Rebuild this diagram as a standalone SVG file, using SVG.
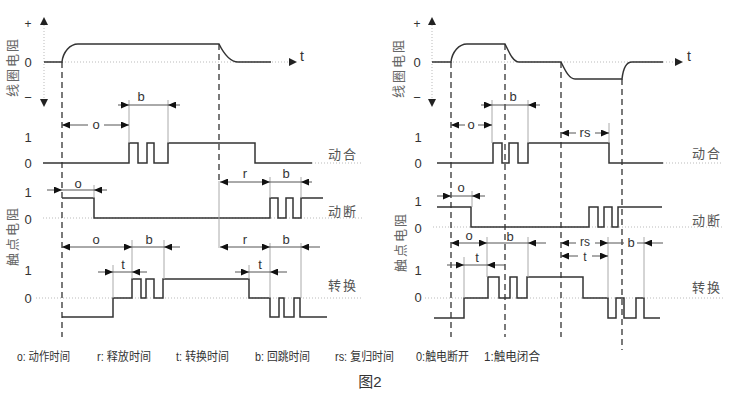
<svg xmlns="http://www.w3.org/2000/svg" width="733" height="406" viewBox="0 0 733 406">
<style>
text{font-family:"Liberation Sans","Noto Sans CJK SC",sans-serif;fill:#333}
.num{font-size:13px;text-anchor:middle}
.lab{font-size:13px;fill:#555;letter-spacing:2px}
.vl{font-size:13px;fill:#666;text-anchor:middle;letter-spacing:2px}
.dl{font-size:13px;text-anchor:middle}
.sig{fill:none;stroke:#333;stroke-width:1.5}
.dash{stroke:#333;stroke-width:1.3;stroke-dasharray:6 4;fill:none}
.thin{stroke:#aaa;stroke-width:1;fill:none}
.dot{stroke:#bbb;stroke-width:1;stroke-dasharray:1 2;fill:none}
.d{stroke:#555;stroke-width:1;fill:none}
.m{marker-end:url(#ah)}
.mm{marker-start:url(#ah);marker-end:url(#ah)}
.ax{fill:#222}
.cap{font-size:12px}
</style>
<defs>
<marker id="ah" viewBox="0 0 8 7" refX="8" refY="3.5" markerWidth="8" markerHeight="7" orient="auto-start-reverse" markerUnits="userSpaceOnUse"><path d="M0,0L8,3.5L0,7z" fill="#111"/></marker>
</defs>
<rect width="733" height="406" fill="#fff"/>

<!-- LEFT PANEL -->
<g id="left-coil">
<path class="dot" d="M44,25V99M44,62H289"/>
<path class="ax" d="M44,17L40,25H48z M44,107L40,99H48z M297,62L289,58V66z"/>
<text class="num" x="28" y="28" style="font-size:12px">+</text>
<text class="num" x="28" y="67">0</text>
<text class="num" x="28" y="102">−</text>
<text x="300" y="61" style="font-size:14px">t</text>
<text class="vl" transform="translate(17,67) rotate(-90)">线圈电阻</text>
<path class="sig" d="M44,62H62C63,52 70,44 78,44H219C223,52 230,62 238,62H271"/>
</g>
<g id="left-no">
<path class="dot" d="M312,163H362"/>
<text class="num" x="28" y="142">1</text>
<text class="num" x="28" y="168">0</text>
<text class="lab" x="328" y="159">动合</text>
<path class="sig" d="M43,163H129V143H138V163H147V143H154V163H168V143H255V163H312"/>
</g>
<g id="left-nc">
<path class="dot" d="M43,218H362"/>
<text class="num" x="28" y="197">1</text>
<text class="num" x="28" y="224">0</text>
<text class="lab" x="328" y="216">动断</text>
<path class="sig" d="M62,198H94V218H270V198H278V218H286V198H293V218H301V198H323"/>
</g>
<g id="left-co">
<path class="dot" d="M36,298H362"/>
<text class="num" x="28" y="275">1</text>
<text class="num" x="28" y="303">0</text>
<text class="lab" x="328" y="290">转换</text>
<text class="vl" transform="translate(17,236) rotate(-90)">触点电阻</text>
<path class="sig" d="M62,317H113V298H132V279H141V298H146V279H154V298H163V279H249V298H270V317H279V298H284V317H294V298H300V317H327"/>
</g>

<!-- RIGHT PANEL -->
<g id="right-coil">
<path class="dot" d="M432,25V99M432,62H675"/>
<path class="ax" d="M432,17L428,25H436z M432,107L428,99H436z M683,62L675,58V66z"/>
<text class="num" x="417" y="28" style="font-size:12px">+</text>
<text class="num" x="417" y="67">0</text>
<text class="num" x="417" y="102">−</text>
<text x="687" y="61" style="font-size:14px">t</text>
<text class="vl" transform="translate(403,68) rotate(-90)">线圈电阻</text>
<path class="sig" d="M432,62H451C452,52 459,44 467,44H505C509,52 513,62 519,62H561C565,70 569,79 575,79H622C623,70 626,62 632,62H663"/>
</g>
<g id="right-no">
<path class="dot" d="M663,163H723"/>
<text class="num" x="418" y="142">1</text>
<text class="num" x="418" y="168">0</text>
<text class="lab" x="692" y="158">动合</text>
<path class="sig" d="M437,163H493V143H502V163H509V143H518V163H528V143H609V163H663"/>
</g>
<g id="right-nc">
<path class="dot" d="M433,227H723"/>
<text class="num" x="418" y="206">1</text>
<text class="num" x="418" y="233">0</text>
<text class="lab" x="692" y="225">动断</text>
<path class="sig" d="M437,207H471V227H589V207H598V227H604V207H612V227H618V207H662"/>
</g>
<g id="right-co">
<path class="dot" d="M425,298H723"/>
<text class="num" x="418" y="275">1</text>
<text class="num" x="418" y="302">0</text>
<text class="lab" x="692" y="292">转换</text>
<text class="vl" transform="translate(405,242) rotate(-90)">触点电阻</text>
<path class="sig" d="M434,318H464V298H488V277H499V298H510V277H517V298H527V277H583V298H608V318H616V298H624V318H636V298H644V318H660"/>
</g>

<!-- CONNECTORS: guide lines and dimension arrows -->
<g id="connectors">
<path class="dash" d="M62,62V337M219,44V181M451,62V337M505,44V337M561,62V337M622,79V350"/>
<path class="thin" d="M129,100V143M168,100V143M94,185V198M219,181V248M270,177V198M301,177V198M270,243V298M301,243V298M132,240V279M164,240V279M113,265V298M249,265V279"/>
<path class="thin" d="M492,100V143M528,100V143M609,123V143M472,191V207M487,237V277M528,237V277M464,257V298M608,237V298M644,237V298"/>

<!-- left dims -->
<path class="d m" d="M118,105H129"/><path class="d" d="M129,105H168"/><path class="d m" d="M180,105H168"/>
<text class="dl" x="141" y="101">b</text>
<path class="d m" d="M88,125H62"/><path class="d m" d="M104,125H129"/>
<text class="dl" x="96" y="129">o</text>
<path class="d m" d="M47,190H62"/><path class="d" d="M62,190H94"/><path class="d m" d="M107,190H94"/>
<text class="dl" x="78" y="188">o</text>
<path class="d mm" d="M220,182H270"/><path class="d" d="M270,182H301"/><path class="d m" d="M312,182H301"/>
<text class="dl" x="245" y="178">r</text><text class="dl" x="286" y="178">b</text>
<path class="d mm" d="M62,247H132"/><path class="d" d="M132,247H164"/><path class="d m" d="M180,247H164"/>
<text class="dl" x="96" y="244">o</text><text class="dl" x="149" y="244">b</text>
<path class="d m" d="M98,272H113"/><path class="d" d="M113,272H132"/><path class="d m" d="M147,272H132"/>
<text class="dl" x="123" y="269">t</text>
<path class="d mm" d="M220,247H270"/><path class="d" d="M270,247H301"/><path class="d m" d="M320,247H301"/>
<text class="dl" x="245" y="244">r</text><text class="dl" x="286" y="244">b</text>
<path class="d m" d="M235,272H249"/><path class="d" d="M249,272H270"/><path class="d m" d="M287,272H270"/>
<text class="dl" x="260" y="269">t</text>

<!-- right dims -->
<path class="d m" d="M481,105H492"/><path class="d" d="M492,105H528"/><path class="d m" d="M540,105H528"/>
<text class="dl" x="513" y="101">b</text>
<path class="d m" d="M465,125H451"/><path class="d m" d="M478,125H492"/>
<text class="dl" x="471" y="129">o</text>
<path class="d m" d="M576,133H561"/><path class="d m" d="M595,133H609"/>
<text class="dl" x="585" y="137">rs</text>
<path class="d m" d="M437,196H451"/><path class="d" d="M451,196H472"/><path class="d m" d="M485,196H472"/>
<text class="dl" x="461" y="192">o</text>
<path class="d mm" d="M451,243H487"/><path class="d" d="M487,243H528"/><path class="d m" d="M546,243H528"/>
<text class="dl" x="469" y="240">o</text><text class="dl" x="510" y="241">b</text>
<path class="d m" d="M576,243H561"/><path class="d m" d="M595,243H608"/><path class="d" d="M608,243H624M637,243H644"/><path class="d m" d="M663,243H644"/>
<text class="dl" x="585" y="246" style="font-size:12px">rs</text><text class="dl" x="631" y="247">b</text>
<path class="d m" d="M447,265H464"/><path class="d" d="M464,265H487"/><path class="d m" d="M505,265H487"/>
<text class="dl" x="477" y="262">t</text>
<path class="d m" d="M578,256H561"/><path class="d m" d="M592,256H608"/>
<text class="dl" x="585" y="261" style="font-size:12px">t</text>
</g>

<g id="caption">
<text class="cap" x="17" y="361" textLength="53" lengthAdjust="spacingAndGlyphs">o: 动作时间</text>
<text class="cap" x="97" y="361" textLength="54" lengthAdjust="spacingAndGlyphs">r: 释放时间</text>
<text class="cap" x="176" y="361" textLength="53" lengthAdjust="spacingAndGlyphs">t: 转换时间</text>
<text class="cap" x="255" y="361" textLength="55" lengthAdjust="spacingAndGlyphs">b: 回跳时间</text>
<text class="cap" x="335" y="361" textLength="59" lengthAdjust="spacingAndGlyphs">rs: 复归时间</text>
<text class="cap" x="416" y="361" textLength="53" lengthAdjust="spacingAndGlyphs">0:触电断开</text>
<text class="cap" x="484" y="361" textLength="56" lengthAdjust="spacingAndGlyphs">1:触电闭合</text>
<text x="370" y="387" style="font-size:15px;text-anchor:middle">图2</text>
</g>
</svg>
